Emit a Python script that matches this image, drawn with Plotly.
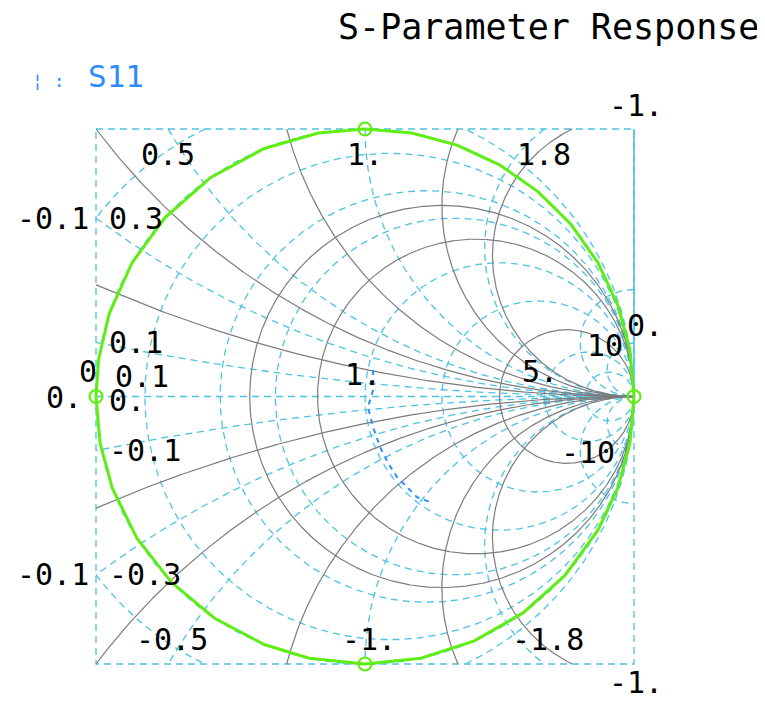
import numpy as np
import plotly.graph_objects as go

# ---------------- data ----------------
# S11 trace (magnitude / phase in degrees), lossless sweep around the rim
S11_PHASE_DEG = [0, 10, 20, 30, 40, 50, 60, 70, 80, 90, 100, 112, 125, 138, 150,
                 162, 172, 180, 190, 200, 212, 224, 236, 248, 258, 270, 282, 294,
                 306, 318, 330, 340, 350, 360]
S11_MAG = [1.0, 1.0, 1.0, 1.0, 1.0, 1.0, 1.0, 1.0, 1.0, 1.0, 1.0, 1.0, 1.0, 1.0, 1.0,
           1.0, 1.0, 1.0, 1.0, 1.0, 1.0, 1.0, 1.0, 1.0, 1.0, 1.0, 1.0, 1.0,
           1.0, 1.0, 1.0, 1.0, 1.0, 1.0]
S11_MARKER_PHASE_DEG = [0, 90, 180, 270]
S11_MARKER_MAG = [1.0, 1.0, 1.0, 1.0]

# second (blue dashed) trace, reflection coefficient real / imag parts
TRACE2_RE = [0.030, 0.030, 0.011, 0.030, 0.056, 0.086, 0.119, 0.156, 0.193, 0.253]
TRACE2_IM = [0.099, 0.024, -0.039, -0.114, -0.189, -0.249, -0.301, -0.338, -0.376, -0.399]

# Smith chart grids (normalised resistance / reactance values)
CYAN_R = [-0.1, 0.0, 0.1, 0.3, 0.5, 1.0, 1.8, 5.0, 10.0]
CYAN_X = [0.1, 0.3, 0.5, 1.0, 1.8, 5.0, 10.0]
GREY_R = [0.4, 0.7, 3.0]
GREY_X = [0.2, 0.4, 0.75, 1.4, 1.9]

# labels
TOP_X_LABELS = ["0.5", "1.", "1.8"]
TOP_X_VALUES = [0.5, 1.0, 1.8]
LEFT_X_LABELS = ["0.1", "0.3"]
LEFT_X_VALUES = [0.1, 0.3]
TITLE = "S-Parameter Response"
LEGEND_NAME = "S11"

# ---------------- geometry helpers ----------------
OFF = 8.0                       # page body margin
W, H = 757, 695
CX, CY = 365.0 - OFF, 396.5 - OFF   # chart centre in figure pixels
SX, SY = 269.0, 267.5              # pixels per unit
ML, MR, MT, MB = 78, 121, 111, 29
PW, PH = W - ML - MR, H - MT - MB


def px2paper_x(p):
    return (p - OFF - ML) / PW


def px2paper_y(p):
    return 1 - (p - OFF - MT) / PH


def clip_box(xs, ys, lim=1.0):
    ox, oy = [], []
    cont = False
    for i in range(len(xs) - 1):
        x0, y0, x1, y1 = xs[i], ys[i], xs[i + 1], ys[i + 1]
        dx, dy = x1 - x0, y1 - y0
        t0, t1 = 0.0, 1.0
        ok = True
        for p, q in ((-dx, x0 + lim), (dx, lim - x0), (-dy, y0 + lim), (dy, lim - y0)):
            if p == 0:
                if q < 0:
                    ok = False
                    break
            else:
                t = q / p
                if p < 0:
                    if t > t1:
                        ok = False
                        break
                    t0 = max(t0, t)
                else:
                    if t < t0:
                        ok = False
                        break
                    t1 = min(t1, t)
        if not ok or t0 > t1:
            cont = False
            continue
        ax, ay = x0 + t0 * dx, y0 + t0 * dy
        bx, by = x0 + t1 * dx, y0 + t1 * dy
        if cont and t0 == 0.0:
            ox.append(bx)
            oy.append(by)
        else:
            if ox:
                ox.append(None)
                oy.append(None)
            ox += [ax, bx]
            oy += [ay, by]
        cont = (t1 == 1.0)
    return ox, oy


def circle(cx, cy, rad):
    n = int(1500 * max(1.0, rad)) + 1
    th = np.linspace(0, 2 * np.pi, n)
    return list(cx + rad * np.cos(th)), list(cy + rad * np.sin(th))


def r_circle(r):
    return circle(r / (1 + r), 0.0, 1 / abs(1 + r))


def x_circle(x):
    return circle(1.0, 1 / x, 1 / abs(x))


def grid_trace(curves, color, width, dash):
    X, Y = [], []
    for xs, ys in curves:
        cx_, cy_ = clip_box(xs, ys)
        if not cx_:
            continue
        if X:
            X.append(None)
            Y.append(None)
        X += cx_
        Y += cy_
    return go.Scatter(x=X, y=Y, mode="lines", hoverinfo="skip", showlegend=False,
                      line=dict(color=color, width=width, dash=dash))


CYAN = "#4cc3e6"
GREY = "#7c7c7c"
GREEN = "#5fee14"
BLUE = "#2e8cff"

fig = go.Figure()

# cyan dashed grid
cyan_curves = [r_circle(r) for r in CYAN_R]
for x in CYAN_X:
    cyan_curves.append(x_circle(x))
    cyan_curves.append(x_circle(-x))
cyan_curves.append(([-1.0, 1.0], [0.0, 0.0]))
cyan_curves.append(([-1, 1, 1, -1, -1], [1, 1, -1, -1, 1]))
fig.add_trace(grid_trace(cyan_curves, CYAN, 1.3, "7px,5px"))
# r = -1 line (right edge, upper half drawn solid)
fig.add_trace(go.Scatter(x=[1.0, 1.0], y=[0.0, 1.0], mode="lines", hoverinfo="skip",
                         showlegend=False, line=dict(color=CYAN, width=1.6)))

# grey solid grid
grey_curves = [r_circle(r) for r in GREY_R]
for x in GREY_X:
    grey_curves.append(x_circle(x))
    grey_curves.append(x_circle(-x))
fig.add_trace(grid_trace(grey_curves, GREY, 1.2, "solid"))

# S11 trace
ph = np.radians(S11_PHASE_DEG)
mg = np.array(S11_MAG)
fig.add_trace(go.Scatter(x=mg * np.cos(ph), y=mg * np.sin(ph), mode="lines",
                         name=LEGEND_NAME, showlegend=False,
                         line=dict(color=GREEN, width=3)))
mph = np.radians(S11_MARKER_PHASE_DEG)
mmg = np.array(S11_MARKER_MAG)
fig.add_trace(go.Scatter(x=mmg * np.cos(mph), y=mmg * np.sin(mph), mode="markers",
                         showlegend=False, cliponaxis=False,
                         marker=dict(symbol="circle-open", size=13, color=GREEN,
                                     line=dict(width=2.2, color=GREEN))))

# blue dashed trace
fig.add_trace(go.Scatter(x=TRACE2_RE, y=TRACE2_IM, mode="lines", showlegend=False,
                         line=dict(color=BLUE, width=2, dash="5px,5px")))

# ---------------- annotations ----------------
FONT = "DejaVu Sans Mono"
LS = 30
ann = []


def add(text, x, y, xa="center", ya="middle", xs=0, ys=0, size=LS, color="black",
        ref="x"):
    ann.append(dict(text=text, x=x, y=y,
                    xref="x" if ref == "x" else "paper",
                    yref="y" if ref == "x" else "paper",
                    showarrow=False, xanchor=xa, yanchor=ya, xshift=xs, yshift=ys,
                    font=dict(family=FONT, size=size, color=color)))


for t, v in zip(TOP_X_LABELS, TOP_X_VALUES):
    X = 1 - np.sqrt(2 / v - 1)
    add(t, X, 1.0, "center", "top", 0, -6)
    add("-" + t, X, -1.0, "center", "bottom", 4, 5)

for t, v in zip(LEFT_X_LABELS, LEFT_X_VALUES):
    Y = (1 - np.sqrt(1 - 4 * v * v)) / v
    add(t, -1.0, Y, "left", "middle", 11, 0)
    add("-" + t, -1.0, -Y, "left", "middle", 11, 0)

# r = -0.1 circle at left edge
c, R = -0.1 / 0.9, 1 / 0.9
Yr = np.sqrt(R * R - (-1 - c) ** 2)
add("-0.1", -1.0, Yr, "right", "middle", -5, 0)
add("-0.1", -1.0, -Yr, "right", "middle", -5, 0)
# r = -1 line corners
add("-1.", 1.0, 1.0, "center", "bottom", 2, 4)
add("-1.", 1.0, -1.0, "center", "middle", 2, -18)
# r labels on the real axis
add("1.", 0.0, 0.0, "center", "bottom", -2, 3)
add("5.", 2 / 3, 0.0, "center", "bottom", -4, 6)
add("0.1", -0.9 / 1.1, 0.0, "center", "bottom", -3, 1)
add("0.", -1.0, 0.0, "right", "middle", -12, -1)
add("0.", -1.0, 0.0, "left", "middle", 11, -4)
add("0", -1.0, 0.0, "center", "bottom", -8, 6)
# large reactance labels
g10 = complex(-1, 10) / complex(1, 10)
add("10", g10.real, g10.imag, "right", "middle", -4, -2)
add("-10", g10.real, -g10.imag, "right", "middle", -12, -3)
add("0.", g10.real, g10.imag, "left", "middle", -4, 18)

# title and legend (outside the chart area, paper coordinates)
add(TITLE, px2paper_x(761), px2paper_y(27), "right", "middle", 0, 0, size=35, ref="p")
add(LEGEND_NAME, px2paper_x(86), px2paper_y(76), "left", "middle", 0, 0, size=31,
    color=BLUE, ref="p")
add("¦ :", px2paper_x(30), px2paper_y(80), "left", "middle", 0, 0, size=18,
    color=BLUE, ref="p")

fig.update_layout(
    width=W, height=H,
    margin=dict(l=ML, r=MR, t=MT, b=MB, pad=0),
    paper_bgcolor="white", plot_bgcolor="white",
    annotations=ann, showlegend=False,
    xaxis=dict(range=[(ML - CX) / SX, (W - MR - CX) / SX], visible=False, fixedrange=True),
    yaxis=dict(range=[(CY - (H - MB)) / SY, (CY - MT) / SY], visible=False, fixedrange=True),
)

fig.write_html("out.html")
